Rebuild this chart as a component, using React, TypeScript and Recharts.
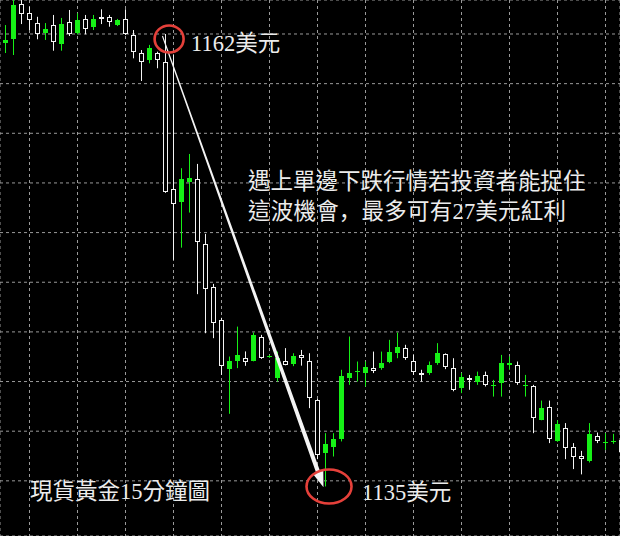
import React from "react";
import {
  ComposedChart,
  Bar,
  XAxis,
  YAxis,
  CartesianGrid,
  ReferenceDot,
  ReferenceLine,
} from "recharts";

// ---- data (XAUUSD 15-minute candles) ----
const opens = [
  1161.47, 1161.68, 1163.81, 1163.29, 1162.68, 1162.08, 1162.54, 1161.38, 1162.71, 1162.08,
  1162.89, 1162.4, 1163.01, 1163.01, 1162.54, 1162.89, 1161.94, 1160.87, 1160.43, 1160.83,
  1160.33, 1152.62, 1151.87, 1153.08, 1153.22, 1149.3, 1146.74, 1144.7, 1141.77, 1142.27,
  1142.41, 1142.27, 1143.68, 1142.5, 1141.2, 1142.27, 1142.09, 1142.59, 1142.27, 1139.89,
  1136.71, 1137.07, 1137.54, 1141.2, 1141.59, 1141.51, 1141.81, 1141.81, 1142.21, 1142.71,
  1143.02, 1142.27, 1141.51, 1141.51, 1142.11, 1142.65, 1141.81, 1140.6, 1141.2, 1141.0,
  1141.4, 1140.79, 1140.9, 1142.01, 1142.01, 1140.79, 1140.74, 1138.69, 1139.49, 1137.38,
  1138.18, 1137.07, 1136.51, 1136.17, 1137.68, 1137.3, 1137.37, 1137.48,
];
const highs = [
  1162.54, 1164.23, 1164.17, 1163.65, 1163.04, 1162.66, 1163.15, 1162.97, 1163.45, 1163.25,
  1163.15, 1163.15, 1163.49, 1163.15, 1162.91, 1163.49, 1162.24, 1161.03, 1161.34, 1160.93,
  1162.0, 1160.73, 1153.89, 1154.75, 1154.15, 1149.92, 1146.9, 1144.85, 1142.51, 1144.32,
  1142.82, 1143.96, 1143.82, 1142.61, 1142.81, 1143.02, 1142.71, 1142.91, 1142.71, 1139.95,
  1137.88, 1137.88, 1141.71, 1143.72, 1142.21, 1142.21, 1142.81, 1142.81, 1143.52, 1143.96,
  1143.22, 1142.61, 1141.71, 1142.21, 1143.32, 1142.7, 1142.41, 1141.52, 1141.4, 1141.6,
  1141.6, 1141.1, 1142.61, 1142.51, 1142.21, 1141.4, 1140.8, 1139.85, 1139.85, 1138.66,
  1138.49, 1137.28, 1136.81, 1138.49, 1137.92, 1137.88, 1137.84, 1137.66,
];
const lows = [
  1160.85, 1160.73, 1162.6, 1162.24, 1161.68, 1161.64, 1160.99, 1160.99, 1161.88, 1161.97,
  1161.98, 1162.24, 1162.6, 1162.44, 1162.48, 1161.94, 1160.53, 1159.16, 1160.23, 1159.93,
  1152.4, 1148.35, 1149.09, 1151.21, 1146.28, 1143.92, 1143.62, 1141.4, 1139.05, 1141.81,
  1141.95, 1142.22, 1142.37, 1142.43, 1141.0, 1141.98, 1141.93, 1141.96, 1139.39, 1136.31,
  1134.66, 1136.47, 1137.38, 1140.8, 1141.0, 1140.7, 1141.51, 1141.71, 1142.11, 1142.41,
  1142.31, 1141.4, 1141.0, 1141.4, 1142.01, 1141.75, 1140.41, 1140.3, 1140.5, 1140.8,
  1140.7, 1140.09, 1140.09, 1141.71, 1140.8, 1140.09, 1137.88, 1138.66, 1137.28, 1137.36,
  1136.31, 1135.71, 1135.39, 1136.11, 1137.28, 1136.87, 1137.24, 1136.57,
];
const closes = [
  1161.64, 1163.75, 1163.21, 1162.85, 1162.0, 1162.28, 1161.5, 1162.6, 1161.98, 1162.85,
  1162.28, 1162.89, 1162.89, 1162.71, 1162.85, 1161.98, 1160.89, 1160.29, 1161.14, 1160.43,
  1152.47, 1151.71, 1153.22, 1153.28, 1149.42, 1146.58, 1144.56, 1141.93, 1142.25, 1142.61,
  1142.21, 1143.82, 1142.41, 1142.52, 1142.41, 1142.01, 1142.53, 1142.41, 1140.0, 1136.57,
  1137.22, 1137.54, 1141.34, 1141.51, 1141.61, 1141.9, 1141.66, 1142.11, 1142.81, 1143.08,
  1142.41, 1141.6, 1141.4, 1142.01, 1142.71, 1141.9, 1140.46, 1141.3, 1141.1, 1141.34,
  1140.8, 1140.81, 1142.11, 1142.15, 1140.92, 1140.81, 1138.79, 1139.39, 1137.52, 1138.44,
  1136.98, 1136.43, 1136.31, 1137.84, 1137.38, 1137.32, 1137.39, 1136.77,
];

const priceTicks = [1135, 1138, 1141, 1144, 1147, 1150, 1153, 1156, 1159, 1162];
const barTicks = [3, 9, 15, 21, 27, 33, 39, 45, 51, 57, 63, 69, 75];
const xDomain: [number, number] = [-0.6875, 76.8125];
const yDomain: [number, number] = [1131.667, 1164.054];

// annotation anchors (bar index, price)
const highMark = { x: 20.45, y: 1161.7 };
const lowMark = { x: 40.44, y: 1134.66 };
const arrowFrom = { x: 19.62, y: 1161.88 };
const arrowTo = { x: 39.75, y: 1134.62 };

const highLabel = "1162美元";
const lowLabel = "1135美元";
const noteLine1 = "遇上單邊下跌行情若投資者能捉住";
const noteLine2a = "這波機會";
const noteComma = "，";
const noteLine2b = "最多可有27美元紅利";
const titleLabel = "現貨黃金15分鐘圖";

const data = opens.map((o, i) => ({ i, o, h: highs[i], l: lows[i], c: closes[i] }));

const GREEN = "#16f016";
const WHITE = "#f4f4f4";
const RED = "#e5403a";
const TEXT = "#ececec";
const FONT = "'Liberation Serif', 'Noto Sans CJK TC', serif";

function Candle(props: any) {
  const { x, y, width, height, payload } = props;
  if (!payload || x == null || y == null) return null;
  const top = Math.min(y, y + height);
  const bottom = Math.max(y, y + height);
  const { o, h, l, c } = payload;
  const span = h - l || 1;
  const pix = (v: number) => top + ((h - v) / span) * (bottom - top);
  const bx = Math.round(x);
  const w = Math.round(width);
  const cx = bx + Math.floor(w / 2) + 0.5;
  const up = c >= o;
  const color = up ? GREEN : WHITE;
  const bt = Math.round(pix(Math.max(o, c)));
  const bb = Math.round(pix(Math.min(o, c)));
  return (
    <g>
      <line x1={cx} x2={cx} y1={pix(h)} y2={pix(l)} stroke={color} strokeWidth={1} />
      {up ? (
        <rect x={bx} y={bt} width={w} height={Math.max(1, bb - bt)} fill={GREEN} />
      ) : (
        <rect
          x={bx + 0.5}
          y={bt + 0.5}
          width={w - 1}
          height={Math.max(0, bb - bt - 1)}
          fill="#000"
          stroke={WHITE}
          strokeWidth={1}
        />
      )}
    </g>
  );
}

function Arrow(props: any) {
  const { x1, y1, x2, y2 } = props;
  if ([x1, y1, x2, y2].some((v) => v == null || isNaN(v))) return null;
  const dx = x2 - x1;
  const dy = y2 - y1;
  const len = Math.hypot(dx, dy);
  const ux = dx / len;
  const uy = dy / len;
  const nx = -uy;
  const ny = ux;
  const head = 16;
  const hw = 5.5;
  const w0 = 0.55;
  const w1 = 2.1;
  const bx = x2 - ux * head;
  const by = y2 - uy * head;
  const pts = [
    [x1 + nx * w0, y1 + ny * w0],
    [bx + nx * w1, by + ny * w1],
    [bx + nx * hw, by + ny * hw],
    [x2, y2],
    [bx - nx * hw, by - ny * hw],
    [bx - nx * w1, by - ny * w1],
    [x1 - nx * w0, y1 - ny * w0],
  ]
    .map((p) => p.join(","))
    .join(" ");
  return <polygon points={pts} fill={WHITE} />;
}

const ellipse = (rx: number, ry: number) => (p: any) =>
  <ellipse cx={p.cx} cy={p.cy} rx={rx} ry={ry} fill="none" stroke={RED} strokeWidth={2.6} />;

export default function App() {
  return (
    <div style={{ position: "absolute", left: 0, top: 0, width: 620, height: 536, background: "#000", overflow: "hidden" }}>
      <style>{"body{margin:0;background:#000}"}</style>
      <ComposedChart width={620} height={536} data={data} margin={{ top: 0, right: 0, bottom: 0, left: 0 }}>
        <XAxis
          dataKey="i"
          type="number"
          domain={xDomain}
          allowDataOverflow
          ticks={barTicks}
          hide
        />
        <YAxis type="number" domain={yDomain} allowDataOverflow ticks={priceTicks} hide />
        <CartesianGrid stroke="#9a9a9a" strokeDasharray="3 3" />
        <Bar
          dataKey={(d: any) => [d.l, d.h]}
          barSize={5}
          shape={(p: any) => <Candle {...p} />}
          isAnimationActive={false}
        />
        <ReferenceLine
          segment={[arrowFrom, arrowTo]}
          ifOverflow="visible"
          shape={(p: any) => <Arrow {...p} />}
        />
        <ReferenceDot x={highMark.x} y={highMark.y} r={14} ifOverflow="visible" shape={ellipse(14.5, 13.5)} />
        <ReferenceDot x={lowMark.x} y={lowMark.y} r={20} ifOverflow="visible" shape={ellipse(22.5, 17)} />
      </ComposedChart>
      <svg
        width={620}
        height={536}
        style={{ position: "absolute", left: 0, top: 0, pointerEvents: "none" }}
      >
        <g fill={TEXT} fontFamily={FONT} fontSize={22.5}>
          <text x={191} y={51}>{highLabel}</text>
          <text x={248} y={189}>{noteLine1}</text>
          <text x={248} y={219} textLength={318} lengthAdjust="spacing">
            {noteLine2a}
            <tspan fontFamily="'Noto Sans CJK SC'">{noteComma}</tspan>
            {noteLine2b}
          </text>
          <text x={30} y={499}>{titleLabel}</text>
          <text x={362} y={500}>{lowLabel}</text>
        </g>
      </svg>
    </div>
  );
}
